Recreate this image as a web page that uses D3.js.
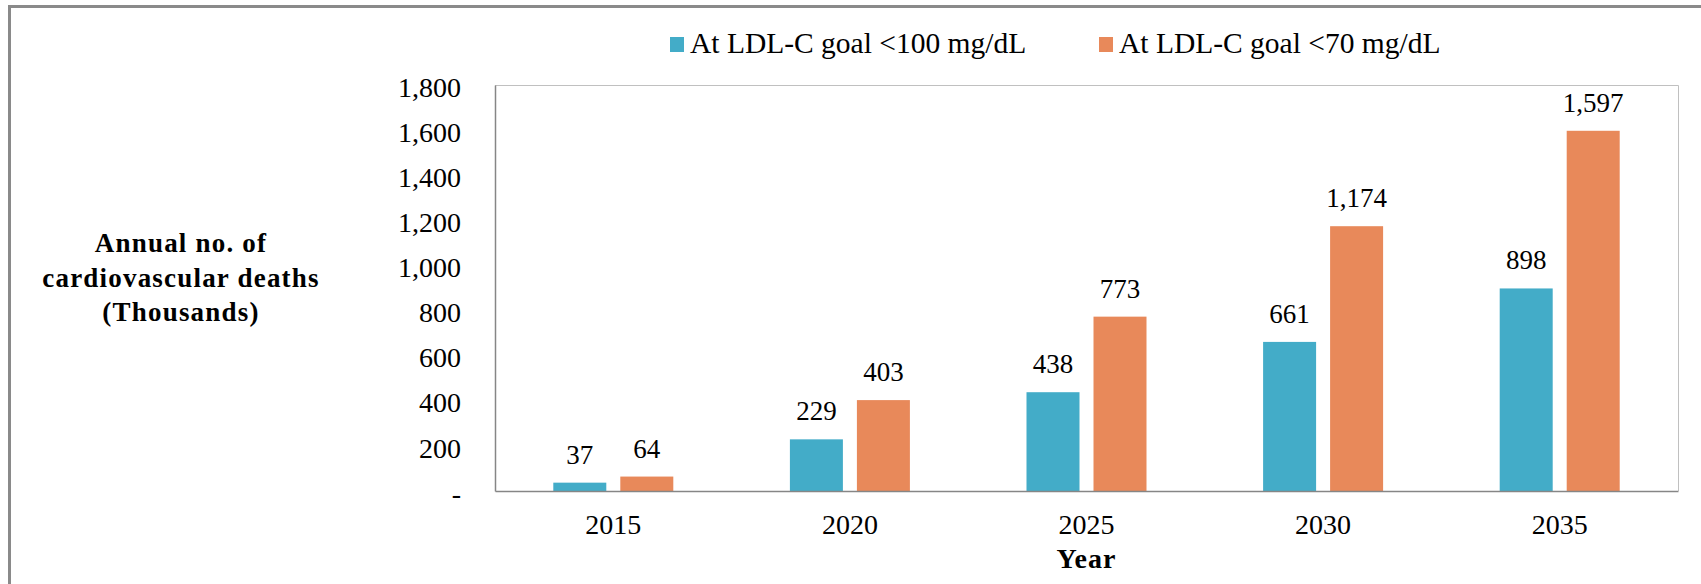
<!DOCTYPE html>
<html>
<head>
    <title>LDL-C goal deaths</title>
    <script src="https://d3js.org/d3.v7.min.js"></script>
    <style>
        body { margin: 0; background: white; }
        text { font-family: "Liberation Serif", "Times New Roman", serif; fill: #000; }
    </style>
</head>
<body>
    <div id="chart"></div>

    <script>
        // Data
        const years = ['2015', '2020', '2025', '2030', '2035'];
        const goal100 = [37, 229, 438, 661, 898];
        const goal70 = [64, 403, 773, 1174, 1597];
        const seriesNames = ['At LDL-C goal <100 mg/dL', 'At LDL-C goal <70 mg/dL'];
        const seriesColors = ['#43acc8', '#e8895a'];
        const yTicks = [0, 200, 400, 600, 800, 1000, 1200, 1400, 1600, 1800];
        const yTitleLines = ['Annual no. of', 'cardiovascular deaths', '(Thousands)'];
        const xTitle = 'Year';

        const width = 1701;
        const height = 584;
        const plotLeft = 495, plotRight = 1678, plotTop = 85, plotBottom = 491;

        const svg = d3.select('#chart').append('svg')
                      .attr('width', width)
                      .attr('height', height);

        // Outer frame (only top and left edges show)
        svg.append('line')
           .attr('x1', 8).attr('x2', width).attr('y1', 6.5).attr('y2', 6.5)
           .attr('stroke', '#8a8a8a').attr('stroke-width', 3);
        svg.append('line')
           .attr('x1', 9.5).attr('x2', 9.5).attr('y1', 5).attr('y2', height)
           .attr('stroke', '#8a8a8a').attr('stroke-width', 3);

        // Scales
        const x = d3.scaleBand()
                    .domain(years)
                    .range([plotLeft, plotRight]);

        const xInner = d3.scaleBand()
                         .domain([0, 1])
                         .range([-60, 60])
                         .paddingInner(0.209);

        const y = d3.scaleLinear()
                    .domain([0, 1800])
                    .range([plotBottom, plotTop]);

        // Plot area border (top, right light grey)
        svg.append('path')
           .attr('d', `M${plotLeft},${plotTop + 0.5}H${plotRight + 0.5}V${plotBottom}`)
           .attr('fill', 'none')
           .attr('stroke', '#c0c0c0')
           .attr('stroke-width', 1);

        // Bars
        const series = [goal100, goal70];
        series.forEach((vals, s) => {
            years.forEach((yr, i) => {
                const bx = x(yr) + x.bandwidth() / 2 + xInner(s);
                svg.append('rect')
                   .attr('x', bx)
                   .attr('y', y(vals[i]))
                   .attr('width', xInner.bandwidth())
                   .attr('height', plotBottom - y(vals[i]))
                   .attr('fill', seriesColors[s]);

                svg.append('text')
                   .attr('x', bx + xInner.bandwidth() / 2)
                   .attr('y', y(vals[i]) - 19)
                   .attr('text-anchor', 'middle')
                   .style('font-size', '27px')
                   .text(d3.format(',')(vals[i]));
            });
        });

        // Y axis
        const yAxis = d3.axisLeft(y)
                        .tickValues(yTicks)
                        .tickSize(0)
                        .tickPadding(34)
                        .tickFormat((d) => d === 0 ? '-' : d3.format(',')(d));

        const yG = svg.append('g')
                      .attr('transform', `translate(${plotLeft},0)`)
                      .call(yAxis);
        yG.select('.domain').attr('stroke', '#868686').attr('stroke-width', 1.5);
        yG.selectAll('text')
          .style('font-size', '28px')
          .style('font-family', '"Liberation Serif", serif')
          .attr('dy', '0.4em');

        // X axis
        const xAxis = d3.axisBottom(x)
                        .tickSize(0)
                        .tickPadding(23);

        const xG = svg.append('g')
                      .attr('transform', `translate(0,${plotBottom})`)
                      .call(xAxis);
        xG.select('.domain').attr('stroke', '#868686').attr('stroke-width', 1.5);
        xG.selectAll('text')
          .style('font-size', '28px')
          .style('font-family', '"Liberation Serif", serif');

        // Axis titles
        svg.append('text')
           .attr('x', (plotLeft + plotRight) / 2)
           .attr('y', 568)
           .attr('text-anchor', 'middle')
           .style('font-size', '28px')
           .style('font-weight', 'bold')
           .style('letter-spacing', '1px')
           .text(xTitle);

        yTitleLines.forEach((line, i) => {
            svg.append('text')
               .attr('x', 181)
               .attr('y', 252 + i * 34.5)
               .attr('text-anchor', 'middle')
               .style('font-size', '27px')
               .style('font-weight', 'bold')
               .style('letter-spacing', '1.2px')
               .text(line);
        });

        // Legend
        const legendX = [670, 1099];
        seriesNames.forEach((name, s) => {
            svg.append('rect')
               .attr('x', legendX[s])
               .attr('y', 37)
               .attr('width', 14)
               .attr('height', 15)
               .attr('fill', seriesColors[s]);
            svg.append('text')
               .attr('x', legendX[s] + 20)
               .attr('y', 53)
               .style('font-size', '29.5px')
               .text(name);
        });
    </script>
</body>
</html>
